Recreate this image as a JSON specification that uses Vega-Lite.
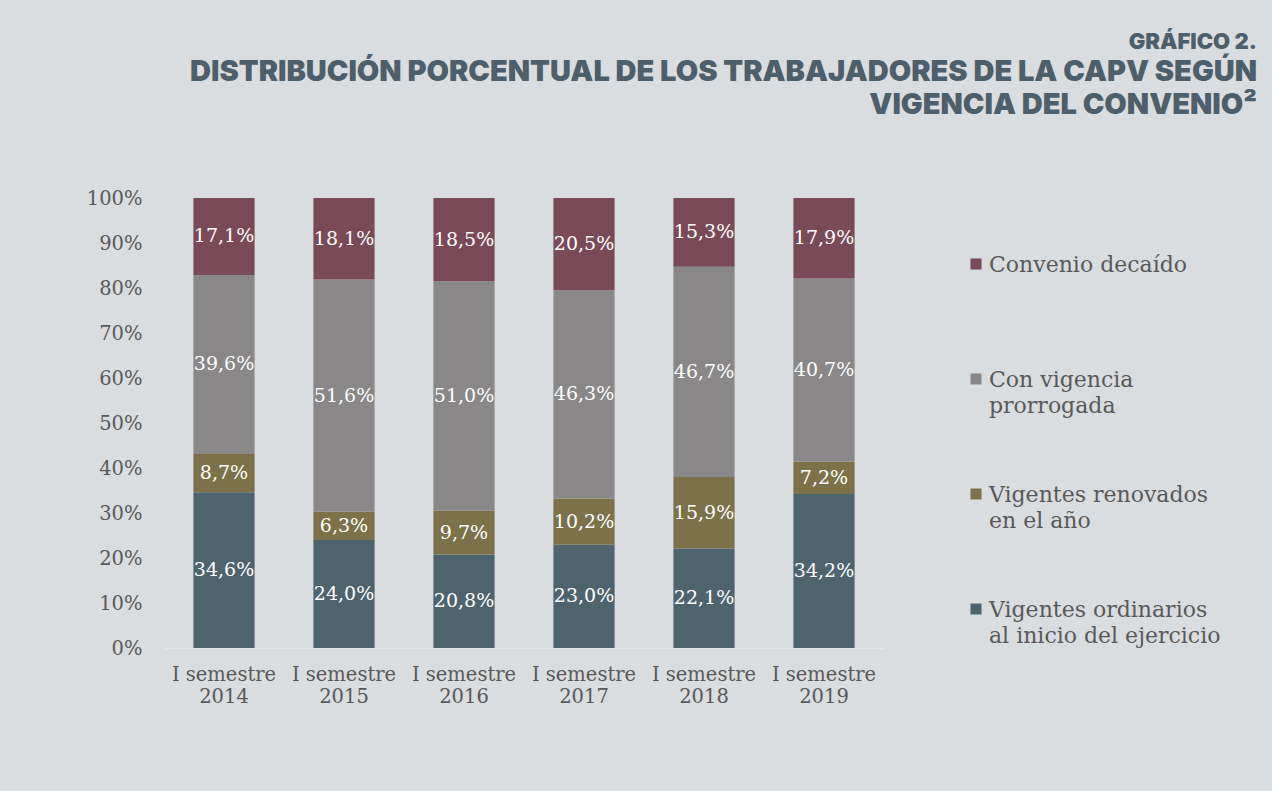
{
  "$schema": "https://vega.github.io/schema/vega-lite/v6.json",
  "width": 720,
  "height": 450,
  "autosize": {"type": "none"},
  "padding": {"left": 164, "top": 198, "right": 388, "bottom": 143},
  "background": "#d9dde0",
  "config": {"view": {"stroke": null}, "font": "DejaVu Serif"},
  "title": {
    "text": "GRÁFICO 2.",
    "subtitle": ["DISTRIBUCIÓN PORCENTUAL DE LOS TRABAJADORES DE LA CAPV SEGÚN", "VIGENCIA DEL CONVENIO²"],
    "anchor": "end",
    "frame": "group",
    "dx": 373,
    "font": "Inter",
    "fontWeight": 900,
    "fontSize": 22,
    "color": "#4d5f6a",
    "subtitleFont": "Inter",
    "subtitleFontWeight": 900,
    "subtitleFontSize": 29,
    "subtitleColor": "#4d5f6a",
    "subtitleLineHeight": 33,
    "subtitlePadding": 4,
    "offset": 67
  },
  "data": {
    "values": [
      {"periodo": "I semestre 2014", "serie": "Vigentes ordinarios al inicio del ejercicio", "v": 34.6},
      {"periodo": "I semestre 2014", "serie": "Vigentes renovados en el año", "v": 8.7},
      {"periodo": "I semestre 2014", "serie": "Con vigencia prorrogada", "v": 39.6},
      {"periodo": "I semestre 2014", "serie": "Convenio decaído", "v": 17.1},
      {"periodo": "I semestre 2015", "serie": "Vigentes ordinarios al inicio del ejercicio", "v": 24.0},
      {"periodo": "I semestre 2015", "serie": "Vigentes renovados en el año", "v": 6.3},
      {"periodo": "I semestre 2015", "serie": "Con vigencia prorrogada", "v": 51.6},
      {"periodo": "I semestre 2015", "serie": "Convenio decaído", "v": 18.1},
      {"periodo": "I semestre 2016", "serie": "Vigentes ordinarios al inicio del ejercicio", "v": 20.8},
      {"periodo": "I semestre 2016", "serie": "Vigentes renovados en el año", "v": 9.7},
      {"periodo": "I semestre 2016", "serie": "Con vigencia prorrogada", "v": 51.0},
      {"periodo": "I semestre 2016", "serie": "Convenio decaído", "v": 18.5},
      {"periodo": "I semestre 2017", "serie": "Vigentes ordinarios al inicio del ejercicio", "v": 23.0},
      {"periodo": "I semestre 2017", "serie": "Vigentes renovados en el año", "v": 10.2},
      {"periodo": "I semestre 2017", "serie": "Con vigencia prorrogada", "v": 46.3},
      {"periodo": "I semestre 2017", "serie": "Convenio decaído", "v": 20.5},
      {"periodo": "I semestre 2018", "serie": "Vigentes ordinarios al inicio del ejercicio", "v": 22.1},
      {"periodo": "I semestre 2018", "serie": "Vigentes renovados en el año", "v": 15.9},
      {"periodo": "I semestre 2018", "serie": "Con vigencia prorrogada", "v": 46.7},
      {"periodo": "I semestre 2018", "serie": "Convenio decaído", "v": 15.3},
      {"periodo": "I semestre 2019", "serie": "Vigentes ordinarios al inicio del ejercicio", "v": 34.2},
      {"periodo": "I semestre 2019", "serie": "Vigentes renovados en el año", "v": 7.2},
      {"periodo": "I semestre 2019", "serie": "Con vigencia prorrogada", "v": 40.7},
      {"periodo": "I semestre 2019", "serie": "Convenio decaído", "v": 17.9}
    ]
  },
  "transform": [
    {"calculate": "indexof(['Vigentes ordinarios al inicio del ejercicio','Vigentes renovados en el año','Con vigencia prorrogada','Convenio decaído'], datum.serie)", "as": "k"},
    {"stack": "v", "groupby": ["periodo"], "sort": [{"field": "k", "order": "ascending"}], "as": ["v0", "v1"]},
    {"calculate": "(datum.v0 + datum.v1) / 2", "as": "vm"},
    {"calculate": "replace(format(datum.v, '.1f'), '.', ',') + '%'", "as": "etiqueta"}
  ],
  "encoding": {
    "x": {
      "field": "periodo",
      "type": "nominal",
      "scale": {"paddingInner": 0.49, "paddingOuter": 0.245},
      "axis": {
        "title": null,
        "labelExpr": "['I semestre', substring(datum.label, 11)]",
        "labelAngle": 0,
        "labelFontSize": 19.5,
        "labelColor": "#595959",
        "labelLineHeight": 22,
        "labelPadding": 17,
        "ticks": false,
        "domainColor": "#e4e6e8",
        "domainWidth": 1.5
      }
    }
  },
  "layer": [
    {
      "mark": {"type": "bar"},
      "encoding": {
        "y": {
          "field": "v0",
          "type": "quantitative",
          "scale": {"domain": [0, 100]},
          "axis": {
            "title": null,
            "values": [0, 10, 20, 30, 40, 50, 60, 70, 80, 90, 100],
            "labelExpr": "datum.value + '%'",
            "domain": false,
            "ticks": false,
            "grid": false,
            "labelPadding": 22,
            "labelFontSize": 19.5,
            "labelColor": "#595959"
          }
        },
        "y2": {"field": "v1"},
        "color": {
          "field": "serie",
          "type": "nominal",
          "scale": {
            "domain": ["Convenio decaído", "Con vigencia prorrogada", "Vigentes renovados en el año", "Vigentes ordinarios al inicio del ejercicio"],
            "range": ["#7b4a58", "#898787", "#7d714a", "#4d646f"]
          },
          "legend": {
            "orient": "none",
            "legendX": 801,
            "legendY": 55,
            "title": null,
            "symbolType": "square",
            "symbolSize": 121,
            "symbolStrokeWidth": 0,
            "labelFontSize": 22,
            "labelColor": "#595959",
            "labelBaseline": "top",
            "labelLimit": 300,
            "labelOffset": 2,
            "rowPadding": 66,
            "labelExpr": "datum.label == 'Con vigencia prorrogada' ? ['Con vigencia','prorrogada'] : datum.label == 'Vigentes renovados en el año' ? ['Vigentes renovados','en el año'] : datum.label == 'Vigentes ordinarios al inicio del ejercicio' ? ['Vigentes ordinarios','al inicio del ejercicio'] : [datum.label, '']",
            "encode": {"labels": {"update": {"lineHeight": {"value": 26}, "dy": {"value": -9}}}}
          }
        }
      }
    },
    {
      "mark": {"type": "text", "color": "white", "fontSize": 19, "baseline": "middle"},
      "encoding": {
        "y": {"field": "vm", "type": "quantitative"},
        "text": {"field": "etiqueta"}
      }
    }
  ]
}
